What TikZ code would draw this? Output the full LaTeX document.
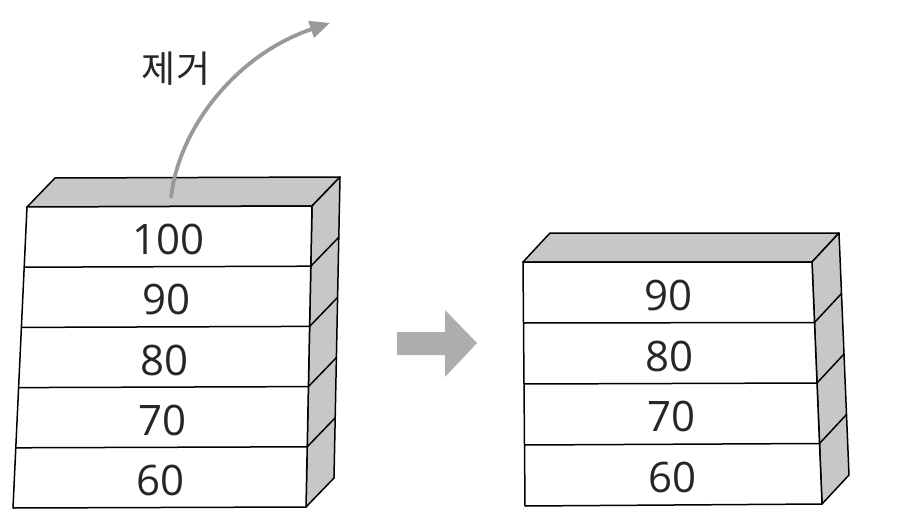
\documentclass[tikz,border=0pt]{standalone}
\usepackage{fontspec}
\setsansfont{Open Sans}
\newfontfamily\krfont{Noto Sans CJK KR}
\usetikzlibrary{calc, arrows.meta}

\begin{document}
\begin{tikzpicture}[x=1pt, y=-1pt,
    shade face/.style={fill=black!22, draw=black, line width=1.5pt, line join=round},
    front face/.style={fill=white, draw=black, line width=1.5pt, line join=round},
    divider/.style={draw=black, line width=1.5pt},
    value/.style={font=\sffamily\fontsize{42}{42}\selectfont, text=black!85, inner sep=0pt},
    ]
\useasboundingbox (0,0) rectangle (897,527);

% left stack (before)
\coordinate (ltl) at (27,207);
\coordinate (ltr) at (312,206);
\coordinate (lbl) at (13,508);
\coordinate (lbr) at (306,507);
\coordinate (ld) at (28,-29);
\draw[shade face] (ltl) -- ($(ltl)+(ld)$) -- ($(ltr)+(ld)$) -- (ltr) -- cycle;
\draw[shade face] (ltr) -- ($(ltr)+(ld)$) -- ($(lbr)+(ld)$) -- (lbr) -- cycle;
\draw[front face] (ltl) -- (ltr) -- (lbr) -- (lbl) -- cycle;
\foreach \f in {0.2,0.4,0.6,0.8}
  \draw[divider] ($(ltl)!\f!(lbl)$) -- ($(ltr)!\f!(lbr)$) -- ++(ld);
\foreach \v [count=\i] in {100,90,80,70,60}
  \node[value] (left-\v) at ($($(ltl)!{(\i-0.45)/5}!(lbl)$)!0.5!($(ltr)!{(\i-0.45)/5}!(lbr)$)$) {\v};

% right stack (after)
\coordinate (rtl) at (523,262);
\coordinate (rtr) at (812,262);
\coordinate (rbl) at (525,506);
\coordinate (rbr) at (822,504);
\coordinate (rd) at (27,-29);
\draw[shade face] (rtl) -- ($(rtl)+(rd)$) -- ($(rtr)+(rd)$) -- (rtr) -- cycle;
\draw[shade face] (rtr) -- ($(rtr)+(rd)$) -- ($(rbr)+(rd)$) -- (rbr) -- cycle;
\draw[front face] (rtl) -- (rtr) -- (rbr) -- (rbl) -- cycle;
\foreach \f in {0.25,0.5,0.75}
  \draw[divider] ($(rtl)!\f!(rbl)$) -- ($(rtr)!\f!(rbr)$) -- ++(rd);
\foreach \v [count=\i] in {90,80,70,60}
  \node[value] (right-\v) at ($($(rtl)!{(\i-0.45)/4}!(rbl)$)!0.5!($(rtr)!{(\i-0.45)/4}!(rbr)$)$) {\v};

% removal arrow
\coordinate (lift) at (171,198);
\coordinate (away) at (330,23);
\draw[black!40, line width=3.8pt, -{Triangle[length=20pt, width=17pt]}]
  (lift) .. controls (178,130) and (235,55) .. (away);
\node[font=\krfont\fontsize{37}{37}\selectfont, text=black!85] (remove) at (176,69) {제거};

% shift arrow
\fill[black!32] (397,332) -- (445,332) -- (445,310) -- (477,343)
  -- (445,377) -- (445,355) -- (397,355) -- cycle;
\end{tikzpicture}
\end{document}
